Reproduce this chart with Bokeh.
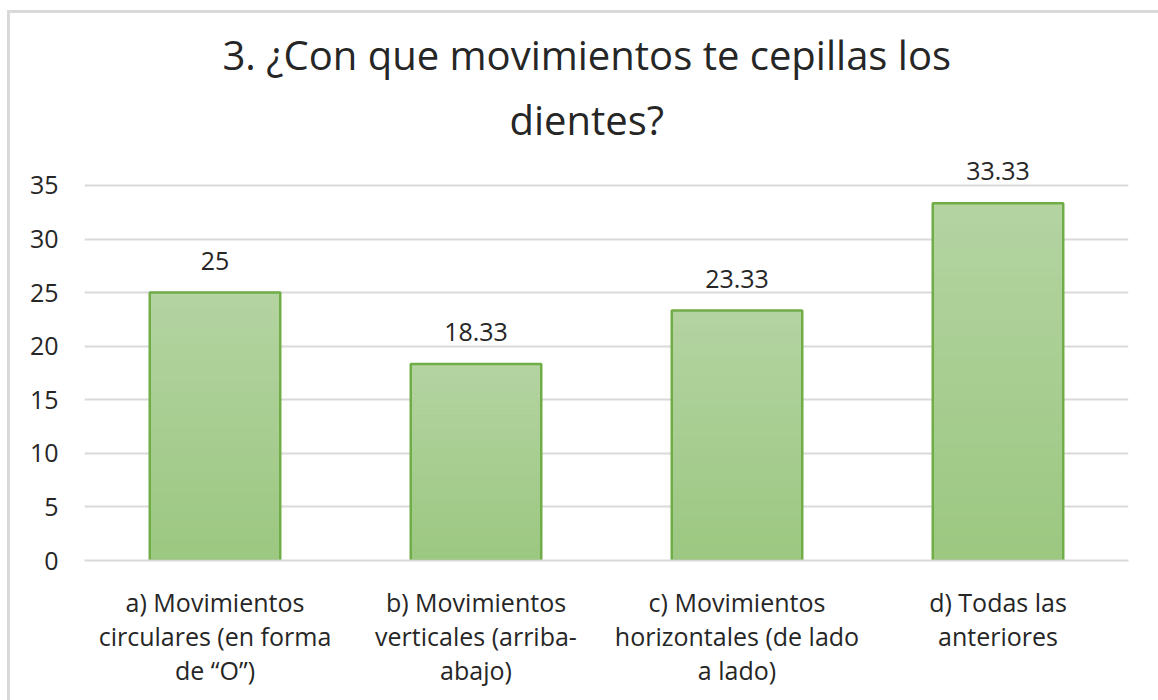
import numpy as np
from bokeh.plotting import figure
from bokeh.models import ColumnDataSource, Title, FixedTicker, Range1d, LabelSet
from bokeh.core.properties import value
from bokeh.embed import file_html
from bokeh.resources import INLINE

categories = ["a) Movimientos\ncirculares (en forma\nde \u201cO\u201d)",
              "b) Movimientos\nverticales (arriba-\nabajo)",
              "c) Movimientos\nhorizontales (de lado\na lado)",
              "d) Todas las\nanteriores"]
values = [25, 18.33, 23.33, 33.33]
value_labels = ["25", "18.33", "23.33", "33.33"]
y_ticks = [0, 5, 10, 15, 20, 25, 30, 35]

FONT = "Open Sans"
TEXT = "#262626"

p = figure(x_range=categories, frame_width=1044, frame_height=400,
           output_backend="svg", toolbar_location=None,
           min_border_left=74, min_border_right=30,
           min_border_bottom=140, min_border_top=147)
p.y_range = Range1d(0, 37.33)
p.styles = {"margin-left": "7px", "margin-top": "10px",
            "border-left": "3px solid #d9d9d9", "border-top": "3px solid #d9d9d9"}

# gradient fill built from the data: slice each bar into thin layers
N = 40
top_c = np.array([0xb4, 0xd4, 0xa2])
bot_c = np.array([0x9c, 0xc8, 0x81])
xs, bottoms, tops, cols = [], [], [], []
for c, v in zip(categories, values):
    for i in range(N):
        f = (i + 0.5) / N
        rgb = (bot_c + (top_c - bot_c) * f).astype(int)
        xs.append(c)
        bottoms.append(v * i / N)
        tops.append(v * (i + 1) / N)
        cols.append("#%02x%02x%02x" % tuple(rgb))
p.vbar(x=xs, bottom=bottoms, top=tops, width=0.5, fill_color=cols,
       line_color=cols, line_width=1)
src = ColumnDataSource(dict(x=categories, top=values, lab=value_labels))
p.vbar(x="x", top="top", width=0.5, source=src, fill_color=None,
       line_color="#70ad47", line_width=2.5)

labels = LabelSet(x="x", y="top", text="lab", source=src, text_align="center",
                  text_baseline="alphabetic", y_offset=23, text_font=value(FONT),
                  text_font_size="25px", text_color=TEXT)
p.add_layout(labels)

p.title.text = "3. \u00bfCon que movimientos te cepillas los"
p.title.align = "left"
p.title.offset = 138
p.title.standoff = -11
p.title.text_font = FONT
p.title.text_font_size = "40px"
p.title.text_font_style = "normal"
p.title.text_color = TEXT
p.add_layout(Title(text="dientes?", align="left", offset=425, standoff=27,
                   text_font=FONT, text_font_size="40px", text_font_style="normal",
                   text_color=TEXT), "above")

p.yaxis.ticker = FixedTicker(ticks=y_ticks)
p.yaxis.axis_line_color = None
p.yaxis.major_tick_line_color = None
p.yaxis.minor_tick_line_color = None
p.yaxis.major_tick_out = 0
p.yaxis.major_label_standoff = 26
p.yaxis.major_label_text_font = FONT
p.yaxis.major_label_text_font_size = "25px"
p.yaxis.major_label_text_color = TEXT

p.xaxis.axis_line_color = "#d9d9d9"
p.xaxis.axis_line_width = 2
p.xaxis.major_tick_line_color = None
p.xaxis.major_tick_out = 0
p.xaxis.major_label_standoff = 24
p.xaxis.major_label_text_font = FONT
p.xaxis.major_label_text_font_size = "25px"
p.xaxis.major_label_text_color = TEXT
p.xaxis.major_label_text_line_height = 1.0

p.xgrid.grid_line_color = None
p.ygrid.grid_line_color = "#d9d9d9"
p.ygrid.grid_line_width = 2

p.outline_line_color = None
p.border_fill_color = "white"
p.background_fill_color = "white"

open("out.html", "w").write(file_html(p, INLINE))
